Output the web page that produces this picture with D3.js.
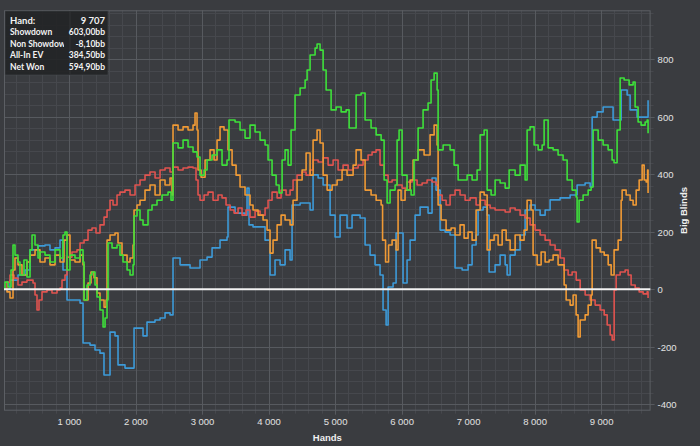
<!DOCTYPE html>
<html><head><meta charset="utf-8">
<script src="https://cdn.jsdelivr.net/npm/d3@7/dist/d3.min.js"></script>
<style>
html,body{margin:0;padding:0;background:#3a3c40;}
svg{display:block;}
</style></head>
<body><svg id="c" width="700" height="446"></svg>
<script>
// ---------- data ----------
const xTicks = [1000,2000,3000,4000,5000,6000,7000,8000,9000];
const xTickLabels = ["1 000","2 000","3 000","4 000","5 000","6 000","7 000","8 000","9 000"];
const yTicks = [-400,-200,0,200,400,600,800];
const yTickLabels = ["-400","-200","0","200","400","600","800"];
const legendLabels = ["Hand:","Showdown","Non Showdown","All-In EV","Net Won"];
const legendValues = ["9 707","603,00bb","-8,10bb","384,50bb","594,90bb"];

// [hands, big blinds]
const showdown = [[0,0],[113,32],[233,50],[338,67],[414,137],[534,151],[639,154],[714,137],[790,144],[865,171],[910,67],[970,-37],[1090,-37],[1166,-48],[1211,-187],[1316,-194],[1391,-211],[1466,-222],[1526,-298],[1572,-298],[1617,-149],[1692,-162],[1737,-263],[1842,-274],[1963,-274],[1978,-135],[2068,-135],[2113,-162],[2173,-114],[2293,-107],[2369,-100],[2444,-82],[2519,-89],[2564,109],[2670,85],[2820,74],[2925,74],[2970,102],[3076,112],[3151,144],[3271,171],[3376,182],[3391,286],[3497,265],[3647,258],[3677,352],[3707,224],[3767,217],[3873,217],[3948,171],[4023,50],[4098,102],[4174,85],[4249,137],[4324,102],[4354,293],[4475,300],[4625,276],[4670,398],[4746,387],[4821,363],[4926,258],[5001,182],[5076,258],[5181,213],[5256,258],[5377,248],[5452,154],[5527,119],[5602,85],[5677,50],[5722,-72],[5768,-124],[5798,8],[5873,22],[5918,196],[5978,196],[6023,22],[6083,102],[6129,171],[6204,258],[6279,286],[6399,265],[6459,387],[6519,345],[6580,206],[6655,199],[6730,189],[6805,74],[6911,67],[7001,85],[7061,154],[7121,189],[7151,276],[7227,286],[7287,258],[7317,60],[7407,85],[7482,119],[7558,85],[7588,50],[7633,119],[7708,137],[7783,189],[7858,276],[7933,293],[8009,276],[8084,258],[8159,276],[8234,311],[8384,318],[8535,328],[8640,363],[8760,370],[8836,356],[8866,599],[8941,617],[9031,634],[9136,634],[9181,589],[9287,589],[9302,693],[9392,676],[9437,624],[9542,599],[9663,599],[9707,658]];

const nonShowdown = [[0,0],[68,25],[113,50],[173,39],[233,15],[293,25],[368,32],[459,22],[489,-20],[519,-72],[549,-37],[594,-9],[669,-2],[744,-13],[820,-2],[865,4],[895,32],[940,50],[970,112],[1045,130],[1120,137],[1166,161],[1226,171],[1286,206],[1346,213],[1406,196],[1466,224],[1527,251],[1572,276],[1617,310],[1662,293],[1722,328],[1767,338],[1842,345],[1918,328],[1993,363],[2068,380],[2143,397],[2218,408],[2294,387],[2369,415],[2444,422],[2519,408],[2564,425],[2640,415],[2715,422],[2790,425],[2865,422],[2910,380],[2940,328],[2970,310],[3031,328],[3091,338],[3166,310],[3241,328],[3301,318],[3361,293],[3422,276],[3482,265],[3542,283],[3602,258],[3662,276],[3722,251],[3798,272],[3873,258],[3948,283],[3993,310],[4053,338],[4129,318],[4189,345],[4264,328],[4324,345],[4369,380],[4429,397],[4505,408],[4565,397],[4625,415],[4670,450],[4746,443],[4821,457],[4896,432],[4971,450],[5046,415],[5121,432],[5197,415],[5272,422],[5347,432],[5422,450],[5497,467],[5557,477],[5617,485],[5677,432],[5738,397],[5798,373],[5858,380],[5933,363],[6008,352],[6083,373],[6159,380],[6234,363],[6309,370],[6384,380],[6459,373],[6520,363],[6550,328],[6610,310],[6670,293],[6730,328],[6805,345],[6880,328],[6956,310],[7031,318],[7121,293],[7182,310],[7257,293],[7332,283],[7407,276],[7482,276],[7558,269],[7633,283],[7708,276],[7783,258],[7858,248],[7933,224],[8009,206],[8084,189],[8159,171],[8234,154],[8309,137],[8385,109],[8445,67],[8505,50],[8565,60],[8626,32],[8686,-2],[8761,-20],[8836,-37],[8911,-55],[8986,-72],[9047,-89],[9092,-124],[9137,-159],[9167,-176],[9197,-2],[9227,50],[9287,60],[9362,67],[9407,50],[9452,15],[9513,4],[9573,-9],[9633,-16],[9693,-9],[9707,-30]];

const allInEV = [[0,0],[68,-9],[113,-30],[158,67],[188,109],[233,85],[293,50],[368,95],[414,119],[489,137],[564,95],[639,109],[714,85],[790,119],[865,95],[925,171],[970,189],[1015,102],[1090,95],[1166,119],[1211,85],[1226,-37],[1286,22],[1331,60],[1376,40],[1421,-13],[1466,-37],[1527,-62],[1557,-37],[1572,171],[1617,189],[1692,196],[1737,161],[1797,119],[1873,95],[1918,109],[1963,154],[1978,276],[2023,293],[2068,310],[2143,345],[2218,363],[2294,328],[2369,380],[2444,363],[2519,387],[2549,328],[2564,571],[2640,554],[2715,565],[2790,554],[2865,571],[2895,613],[2925,554],[2940,415],[2986,390],[3046,450],[3121,485],[3181,450],[3226,519],[3271,565],[3331,554],[3391,485],[3452,432],[3512,397],[3572,356],[3647,328],[3722,293],[3767,276],[3843,258],[3918,241],[3978,206],[4023,126],[4068,171],[4129,224],[4189,258],[4249,241],[4324,224],[4369,310],[4429,380],[4505,415],[4565,474],[4625,397],[4670,519],[4730,554],[4775,509],[4821,397],[4881,345],[4956,363],[5031,380],[5106,415],[5181,397],[5272,432],[5317,485],[5392,450],[5452,345],[5542,328],[5618,310],[5693,293],[5715,171],[5760,95],[5805,154],[5858,171],[5918,137],[5948,345],[5993,310],[6053,345],[6129,380],[6174,450],[6249,485],[6339,467],[6429,537],[6490,571],[6535,502],[6550,293],[6595,241],[6670,206],[6745,213],[6805,189],[6880,224],[6941,178],[7001,199],[7061,171],[7121,276],[7182,338],[7242,328],[7287,137],[7332,171],[7392,189],[7452,154],[7513,206],[7573,171],[7633,137],[7708,189],[7783,171],[7843,206],[7888,310],[7948,276],[7978,119],[8039,85],[8099,130],[8159,95],[8219,102],[8279,119],[8354,85],[8415,85],[8445,15],[8475,-37],[8535,-55],[8580,-20],[8625,-89],[8655,-166],[8686,-107],[8761,-89],[8806,-55],[8851,-20],[8866,171],[8926,144],[8987,130],[9047,119],[9107,85],[9152,50],[9196,137],[9257,171],[9302,310],[9317,345],[9377,328],[9437,310],[9482,293],[9528,345],[9573,380],[9618,432],[9648,380],[9678,373],[9700,415],[9707,335]];

const netWon = [[0,0],[38,25],[83,8],[128,67],[158,154],[188,119],[233,95],[263,50],[323,102],[368,43],[414,137],[444,189],[489,154],[534,109],[564,130],[639,119],[714,95],[790,137],[865,109],[910,189],[940,199],[970,67],[1015,119],[1090,109],[1166,137],[1211,95],[1226,-37],[1271,15],[1316,50],[1346,60],[1391,15],[1421,-27],[1466,-72],[1512,-131],[1542,-100],[1572,-37],[1587,161],[1647,144],[1722,154],[1767,119],[1812,95],[1873,67],[1918,50],[1963,85],[1978,255],[2023,276],[2068,241],[2113,224],[2188,276],[2248,293],[2323,310],[2399,328],[2489,338],[2534,310],[2564,509],[2640,492],[2715,519],[2790,495],[2865,478],[2925,460],[2970,397],[3031,415],[3076,450],[3151,467],[3226,485],[3301,432],[3376,450],[3406,589],[3497,582],[3572,554],[3647,526],[3722,571],[3798,547],[3873,519],[3948,502],[3993,450],[4053,397],[4114,363],[4159,335],[4204,450],[4249,485],[4294,432],[4339,554],[4399,676],[4475,700],[4550,728],[4580,763],[4625,815],[4700,839],[4730,853],[4775,832],[4821,763],[4866,693],[4941,624],[5016,634],[5092,617],[5167,624],[5212,561],[5272,561],[5317,676],[5392,683],[5452,589],[5542,561],[5618,537],[5693,519],[5738,380],[5783,300],[5828,345],[5903,363],[5933,519],[5963,554],[6008,397],[6083,345],[6144,328],[6189,450],[6249,561],[6324,624],[6399,648],[6444,728],[6490,752],[6535,693],[6550,485],[6625,502],[6730,485],[6790,432],[6851,380],[6911,380],[6986,397],[7061,380],[7136,415],[7182,537],[7242,554],[7287,345],[7347,328],[7407,380],[7482,370],[7558,352],[7618,415],[7708,397],[7783,432],[7858,380],[7888,554],[7933,565],[7993,502],[8054,485],[8114,502],[8144,589],[8204,492],[8279,485],[8354,467],[8429,450],[8490,380],[8565,345],[8625,321],[8640,234],[8670,310],[8730,328],[8806,345],[8851,356],[8881,554],[8956,519],[9031,502],[9106,485],[9166,450],[9196,440],[9241,554],[9287,735],[9347,728],[9422,711],[9482,721],[9512,634],[9557,582],[9602,571],[9663,582],[9693,589],[9707,543]];

const seriesList = [
  {name:"Showdown", data: showdown, color:"#3d9ad8"},
  {name:"Non Showdown", data: nonShowdown, color:"#e0534f"},
  {name:"All-In EV", data: allInEV, color:"#f09a35"},
  {name:"Net Won", data: netWon, color:"#3ee03a"}
];

// ---------- layout ----------
const svg = d3.select("#c");
const W = 700, H = 446;
const plot = {left:4, right:650.6, top:10.3, bottom:410.7};
const x = d3.scaleLinear().domain([0, 9745]).range([2.5, 650.6]);
const y = d3.scaleLinear().domain([-400, 800]).range([404.3, 59.3]);

svg.append("rect").attr("width",W).attr("height",H).attr("fill","#3a3c40");

const defs = svg.append("defs");
defs.append("clipPath").attr("id","plotclip").append("rect")
  .attr("x",plot.left).attr("y",plot.top)
  .attr("width",plot.right-plot.left).attr("height",plot.bottom-plot.top);

// minor grid
const minorX = d3.range(200, 9745, 200).filter(v => v % 1000 !== 0);
const minorY = d3.range(-400, 970, 40).filter(v => v % 200 !== 0);
const g = svg.append("g");
g.selectAll(".mx").data(minorX).join("line")
  .attr("x1",d=>Math.round(x(d))+0.5).attr("x2",d=>Math.round(x(d))+0.5)
  .attr("y1",plot.top).attr("y2",plot.bottom+3)
  .attr("stroke","#46484d").attr("stroke-width",1);
g.selectAll(".my").data(minorY).join("line")
  .attr("y1",d=>Math.round(y(d))+0.5).attr("y2",d=>Math.round(y(d))+0.5)
  .attr("x1",plot.left).attr("x2",plot.right+3)
  .attr("stroke","#46484d").attr("stroke-width",1);
// major grid
g.selectAll(".Mx").data(xTicks).join("line")
  .attr("x1",d=>Math.round(x(d))+0.5).attr("x2",d=>Math.round(x(d))+0.5)
  .attr("y1",plot.top).attr("y2",plot.bottom+4)
  .attr("stroke","#575a5f").attr("stroke-width",1);
g.selectAll(".My").data(yTicks).join("line")
  .attr("y1",d=>Math.round(y(d))+0.5).attr("y2",d=>Math.round(y(d))+0.5)
  .attr("x1",plot.left).attr("x2",plot.right+4)
  .attr("stroke","#575a5f").attr("stroke-width",1);
// border
svg.append("rect").attr("x",plot.left+0.5).attr("y",plot.top+0.5)
  .attr("width",plot.right-plot.left-1).attr("height",plot.bottom-plot.top-1)
  .attr("fill","none").attr("stroke","#5c5f64").attr("stroke-width",1);

// axis labels via d3 axes
const xAxis = d3.axisBottom(x).tickValues(xTicks).tickFormat((d,i)=>xTickLabels[i]).tickSize(0).tickPadding(0);
const xa = svg.append("g").attr("transform",`translate(0,${plot.bottom})`).call(xAxis);
xa.select(".domain").remove();
xa.selectAll("text").attr("dy",null).attr("y",14)
  .attr("fill","#e2e2e2").attr("font-family","Liberation Sans, Arial, sans-serif").attr("font-size","9.5px");

const yAxis = d3.axisRight(y).tickValues(yTicks).tickFormat((d,i)=>yTickLabels[i]).tickSize(0).tickPadding(0);
const ya = svg.append("g").attr("transform",`translate(${plot.right+7},0)`).call(yAxis);
ya.select(".domain").remove();
ya.selectAll("text").attr("x",0).attr("dy","0.35em")
  .attr("fill","#e2e2e2").attr("font-family","Liberation Sans, Arial, sans-serif").attr("font-size","9.5px");

svg.append("text").attr("x",(plot.left+plot.right)/2).attr("y",441)
  .attr("text-anchor","middle").attr("fill","#f0f0f0")
  .attr("font-family","Liberation Sans, Arial, sans-serif").attr("font-weight","bold").attr("font-size","9.5px")
  .text("Hands");
svg.append("text").attr("transform",`translate(687,${(plot.top+plot.bottom)/2}) rotate(-90)`)
  .attr("text-anchor","middle").attr("fill","#f0f0f0")
  .attr("font-family","Liberation Sans, Arial, sans-serif").attr("font-weight","bold").attr("font-size","9.5px")
  .text("Big Blinds");

// series (step lines)
const line = d3.line().x(d=>x(d[0])).y(d=>y(d[1])).curve(d3.curveStepAfter);
const sg = svg.append("g").attr("clip-path","url(#plotclip)");
sg.selectAll("path.s").data(seriesList).join("path")
  .attr("d",d=>line(d.data)).attr("fill","none")
  .attr("stroke",d=>d.color).attr("stroke-width",1.6)
  .attr("stroke-linejoin","round");

// zero line
sg.append("line").attr("x1",plot.left).attr("x2",plot.right)
  .attr("y1",y(0)).attr("y2",y(0))
  .attr("stroke","#f2f2f2").attr("stroke-width",2);

// legend box
const lg = svg.append("g");
lg.append("rect").attr("x",5).attr("y",11).attr("width",103).attr("height",64)
  .attr("fill","#222426").attr("fill-opacity",0.9).attr("stroke","#4a4d51").attr("stroke-width",0.5);
lg.append("line").attr("x1",70).attr("x2",70).attr("y1",11).attr("y2",75)
  .attr("stroke","#303235").attr("stroke-width",1);
defs.append("clipPath").attr("id","lblclip").append("rect")
  .attr("x",5).attr("y",11).attr("width",59).attr("height",64);
const rowY = [20.5, 32.5, 44, 55.5, 67];
lg.append("g").attr("clip-path","url(#lblclip)").selectAll("text").data(legendLabels).join("text")
  .attr("x",10).attr("y",(d,i)=>rowY[i]).attr("dy","0.35em")
  .attr("fill","#f2f2f2").attr("font-family","Lato, Liberation Sans, sans-serif")
  .attr("font-weight","bold").attr("font-size",(d,i)=>i===0?"9.5px":"8.5px").text(d=>d);
lg.selectAll("text.v").data(legendValues).join("text").attr("class","v")
  .attr("x",105).attr("y",(d,i)=>rowY[i]).attr("dy","0.35em").attr("text-anchor","end")
  .attr("fill","#f2f2f2").attr("font-family","Lato, Liberation Sans, sans-serif")
  .attr("font-weight","bold").attr("font-size",(d,i)=>i===0?"9.5px":"8.5px").text(d=>d);
</script>
</body></html>
